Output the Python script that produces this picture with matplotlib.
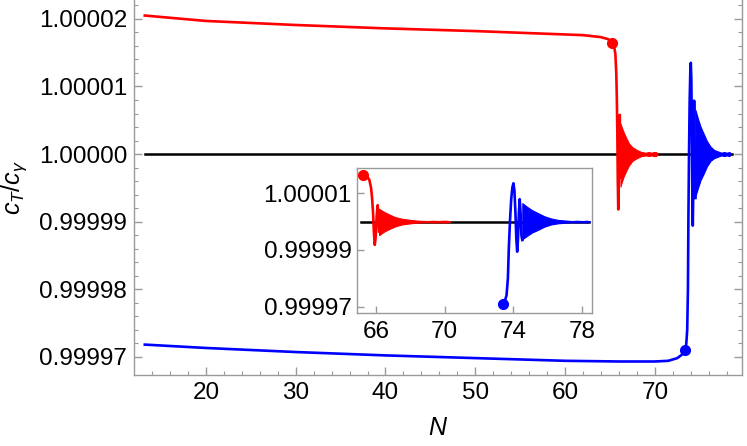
import numpy as np
import matplotlib
matplotlib.use("Agg")
import matplotlib.pyplot as plt
from matplotlib.ticker import FixedLocator, FormatStrFormatter

plt.rcParams['font.family'] = ['Liberation Sans', 'DejaVu Sans']
plt.rcParams['mathtext.fontset'] = 'custom'
plt.rcParams['mathtext.rm'] = 'Liberation Sans'
plt.rcParams['mathtext.it'] = 'Liberation Sans:italic'

# red curve: slow drift, drop after the marker and the first resolved wiggles
red_N = [13.2, 20, 30, 40, 50, 58, 62, 64, 64.8, 65.25, 65.45, 65.6, 65.7, 65.76,
         65.82, 65.87, 65.92, 65.97, 66.03, 66.09, 66.13, 66.17]
red_c = [1.0000205, 1.0000197, 1.0000191, 1.0000186, 1.0000182, 1.0000178,
         1.0000176, 1.0000173, 1.0000170, 1.0000165, 1.0000160, 1.0000148,
         1.0000120, 1.0000085, 1.0000030, 0.9999960, 0.9999918, 0.9999945,
         1.0000020, 1.0000058, 1.0000020, 0.9999965]
# red fast oscillation, upper / lower envelope
red_env_N = [66.17, 66.3, 66.5, 66.8, 67.1, 67.5, 68.0, 68.5, 69.0, 69.3, 69.6,
             69.9, 70.1, 70.3]
red_up = [1.0000045, 1.0000040, 1.0000033, 1.0000024, 1.0000016, 1.0000010,
          1.0000006, 1.0000003, 1.0000002, 1.0000003, 1.0000002, 1.0000003,
          1.0000003, 1.0000001]
red_lo = [0.9999952, 0.9999958, 0.9999966, 0.9999975, 0.9999983, 0.9999990,
          0.9999994, 0.9999997, 0.9999998, 0.9999997, 0.9999998, 0.9999997,
          0.9999997, 0.9999999]
red_mark = (65.25, 1.0000165)

# blue curve
blue_N = [13.2, 20, 30, 40, 50, 60, 66, 70, 71.5, 72.5, 73.0, 73.4, 73.5, 73.6,
          73.68, 73.73, 73.8, 73.87, 73.94, 74.0, 74.06, 74.12, 74.17, 74.22,
          74.27, 74.32, 74.37, 74.42, 74.47, 74.52]
blue_c = [0.9999718, 0.9999713, 0.9999707, 0.9999702, 0.9999698, 0.9999694,
          0.9999693, 0.9999693, 0.9999694, 0.9999698, 0.9999703, 0.9999710,
          0.9999720, 0.9999740, 0.9999800, 0.9999900, 1.0000000, 1.0000077,
          1.0000120, 1.0000135, 1.0000110, 1.0000030, 0.9999940, 0.9999894,
          0.9999940, 1.0000030, 1.0000079, 1.0000030, 0.9999950, 0.9999935]
blue_env_N = [74.52, 74.8, 75.1, 75.4, 75.8, 76.2, 76.6, 77.0, 77.4, 77.7, 78.0,
              78.3, 78.45]
blue_up = [1.0000065, 1.0000052, 1.0000040, 1.0000031, 1.0000019, 1.0000011,
           1.0000006, 1.0000004, 1.0000002, 1.0000003, 1.0000002, 1.0000003,
           1.0000001]
blue_lo = [0.9999938, 0.9999950, 0.9999962, 0.9999970, 0.9999982, 0.9999990,
           0.9999994, 0.9999996, 0.9999998, 0.9999997, 0.9999998, 0.9999997,
           0.9999999]
blue_mark = (73.4, 0.9999710)

# reference line c_T = c_gamma
ref_N = [13.2, 78.6]
ref_c = [1.0, 1.0]
inset_ref_N = [65.1, 78.4]

main_yticks = [0.99997, 0.99998, 0.99999, 1.00000, 1.00001, 1.00002]
main_xticks = [20, 30, 40, 50, 60, 70]
inset_yticks = [0.99997, 0.99999, 1.00001]
inset_xticks = [66, 70, 74, 78]

FRAME = '#9a9a9a'
LABEL_SIZE = 17.5


def style_axes(ax):
    for s in ax.spines.values():
        s.set_color(FRAME)
        s.set_linewidth(1.0)
    ax.tick_params(which='both', direction='in', color=FRAME,
                   labelsize=LABEL_SIZE, labelcolor='black')


def draw_curves(ax, ref_x, from_marker=False):
    # inset only shows the curves from the markers on
    r0 = red_N.index(red_mark[0]) if from_marker else 0
    b0 = blue_N.index(blue_mark[0]) if from_marker else 0
    ax.plot(ref_x, ref_c, color='black', lw=1.8, zorder=1)
    ax.plot(red_N[r0:], red_c[r0:], color='red', lw=1.9, zorder=2)
    ax.fill_between(red_env_N, red_lo, red_up, color='red', lw=0.8, zorder=2)
    ax.plot(blue_N[b0:], blue_c[b0:], color='blue', lw=1.9, zorder=2)
    ax.fill_between(blue_env_N, blue_lo, blue_up, color='blue', lw=0.8, zorder=2)
    ax.plot(*red_mark, 'o', color='red', ms=7, zorder=3, clip_on=False)
    ax.plot(*blue_mark, 'o', color='blue', ms=7, zorder=3, clip_on=False)


fig = plt.figure(figsize=(7.47, 4.46), dpi=100)
ax = fig.add_axes([0.1794, 0.1592, 0.8139, 0.8408])
draw_curves(ax, ref_N)
ax.set_xlim(12.0, 79.7)
ax.set_ylim(0.9999673, 1.0000228)
style_axes(ax)
ax.spines['top'].set_visible(False)
ax.xaxis.set_major_locator(FixedLocator(main_xticks))
ax.xaxis.set_minor_locator(FixedLocator(np.arange(14, 80, 2)))
ax.yaxis.set_major_locator(FixedLocator(main_yticks))
ax.yaxis.set_minor_locator(FixedLocator(np.arange(0.99997, 1.0000225, 0.000002)))
ax.yaxis.set_major_formatter(FormatStrFormatter('%.5f'))
ax.tick_params(which='major', length=5.5, width=1.0, pad=5)
ax.tick_params(which='minor', length=3, width=0.8)
ax.tick_params(axis='y', which='both', right=True)
ax.set_xlabel('$N$', fontsize=18)
ax.set_ylabel(r'$c_T/c_\gamma$', fontsize=18)
ax.xaxis.set_label_coords(0.5, -0.11)
ax.yaxis.set_label_coords(-0.172, 0.5)

# zoomed inset around the transitions
ins = fig.add_axes([0.4783, 0.2989, 0.3146, 0.3251])
draw_curves(ins, inset_ref_N, from_marker=True)
ins.set_xlim(64.9, 78.6)
ins.set_ylim(0.9999679, 1.0000190)
style_axes(ins)
ins.xaxis.set_major_locator(FixedLocator(inset_xticks))
ins.yaxis.set_major_locator(FixedLocator(inset_yticks))
ins.yaxis.set_major_formatter(FormatStrFormatter('%.5f'))
ins.tick_params(which='major', length=5, width=1.0, pad=4)
ins.tick_params(axis='x', pad=6)

fig.savefig('out.png', dpi=100)
